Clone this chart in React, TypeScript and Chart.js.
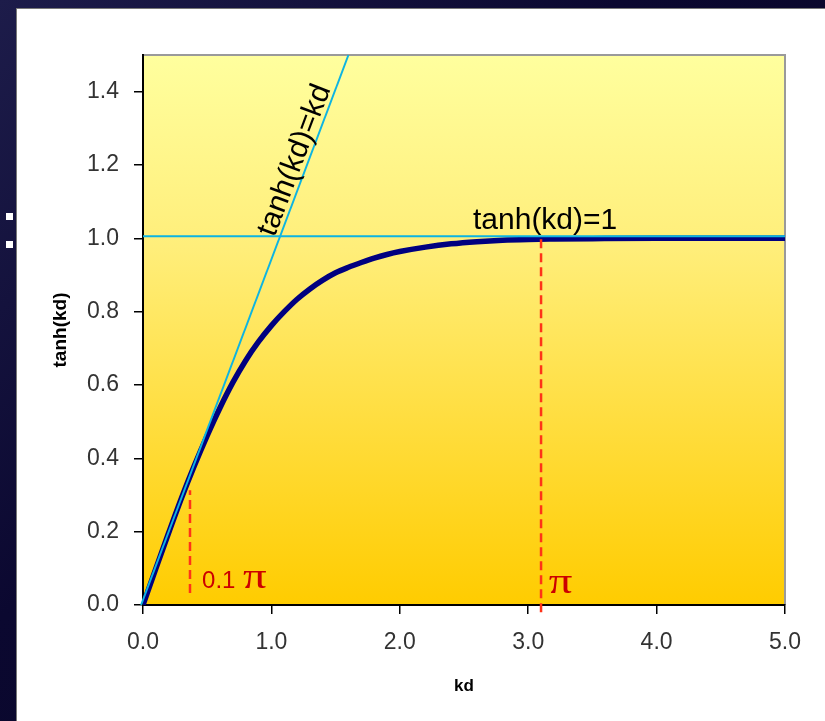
import React, { useEffect, useRef } from "react";
import { Chart, registerables } from "chart.js";

Chart.register(...registerables);

// ---- data ----
const kdValues = [0, 0.1, 0.2, 0.3, 0.4, 0.5, 0.6, 0.7, 0.8, 0.9, 1.0, 1.1, 1.2, 1.3, 1.4, 1.5, 1.6, 1.7, 1.8, 1.9, 2.0, 2.2, 2.4, 2.6, 2.8, 3.0, 3.2, 3.5, 4.0, 4.5, 5.0];
const tanhValues = [0, 0.099, 0.197, 0.292, 0.38, 0.462, 0.538, 0.607, 0.667, 0.718, 0.762, 0.8, 0.834, 0.862, 0.886, 0.906, 0.921, 0.934, 0.946, 0.956, 0.964, 0.976, 0.985, 0.991, 0.995, 0.997, 0.998, 0.999, 1.0, 1.0, 1.0];

const identityKd = [-0.015, 1.6];
const identityTanh = [0, 1.5];

const asymptoteKd = [0, 5];
const asymptoteTanh = [1.006, 1.006];

const marker1Kd = [0.366, 0.366];
const marker1Tanh = [0.033, 0.313];
const marker2Kd = [3.1, 3.1];
const marker2Tanh = [-0.02, 0.999];

const xTickValues = [0, 1, 2, 3, 4, 5];
const xTickLabels = ["0.0", "1.0", "2.0", "3.0", "4.0", "5.0"];
const yTickValues = [0, 0.2, 0.4, 0.6, 0.8, 1.0, 1.2, 1.4];
const yTickLabels = ["0.0", "0.2", "0.4", "0.6", "0.8", "1.0", "1.2", "1.4"];

const xTitle = "kd";
const yTitle = "tanh(kd)";
const labelIdentity = "tanh(kd)=kd";
const labelAsymptote = "tanh(kd)=1";
const labelMarker1 = "0.1";
const labelPi = "π";

const SANS = "'Liberation Sans', Arial, Helvetica, sans-serif";
const SERIF = "'Liberation Serif', 'Times New Roman', serif";

const pts = (xs: number[], ys: number[]) => xs.map((x, i) => ({ x, y: ys[i] }));

const plotPlugin = {
  id: "plotDecor",
  beforeDraw(chart: any) {
    const { ctx, chartArea: a } = chart;
    ctx.save();
    const g = ctx.createLinearGradient(0, a.top, 0, a.bottom);
    g.addColorStop(0, "#FFFF9E");
    g.addColorStop(0.35, "#FFEE7A");
    g.addColorStop(1, "#FFCC00");
    ctx.fillStyle = g;
    ctx.fillRect(a.left, a.top, a.right - a.left, a.bottom - a.top);
    ctx.strokeStyle = "#9a9a9a";
    ctx.lineWidth = 2;
    ctx.beginPath();
    ctx.moveTo(a.left, a.top);
    ctx.lineTo(a.right, a.top);
    ctx.lineTo(a.right, a.bottom);
    ctx.stroke();
    ctx.restore();
  },
  afterDatasetsDraw(chart: any) {
    const { ctx } = chart;
    const xs = chart.scales.x;
    const ys = chart.scales.y;
    const px = (v: number) => xs.getPixelForValue(v);
    const py = (v: number) => ys.getPixelForValue(v);
    ctx.save();
    // rotated label along identity line
    const x0 = px(identityKd[0]);
    const y0 = py(identityTanh[0]);
    const x1 = px(identityKd[1]);
    const y1 = py(identityTanh[1]);
    const ang = Math.atan2(y1 - y0, x1 - x0);
    ctx.translate(px(1.28), py(1.2));
    ctx.rotate(ang);
    ctx.font = `30px ${SANS}`;
    ctx.fillStyle = "#000";
    ctx.textAlign = "center";
    ctx.textBaseline = "alphabetic";
    ctx.fillText(labelIdentity, 0, -5);
    ctx.setTransform(1, 0, 0, 1, 0, 0);
    // horizontal label
    ctx.textAlign = "left";
    ctx.font = `30px ${SANS}`;
    ctx.fillText(labelAsymptote, px(2.57), py(1.025));
    // red labels
    ctx.fillStyle = "#CC0000";
    ctx.font = `24px ${SANS}`;
    const lx = px(0.46);
    const ly = py(0.046);
    ctx.fillText(labelMarker1, lx, ly);
    const w = ctx.measureText(labelMarker1 + " ").width;
    const drawPi = (x: number, y: number) => {
      ctx.save();
      ctx.translate(x, y);
      ctx.scale(1.3, 1);
      ctx.font = `36px ${SERIF}`;
      ctx.fillText(labelPi, 0, 0);
      ctx.restore();
    };
    drawPi(lx + w + 1, ly);
    drawPi(px(3.16), py(0.033));
    ctx.restore();
  },
};

export default function App() {
  const ref = useRef<HTMLCanvasElement | null>(null);
  useEffect(() => {
    if (!ref.current) return;
    const chart = new Chart(ref.current, {
      type: "line",
      data: {
        datasets: [
          {
            data: pts(marker1Kd, marker1Tanh),
            borderColor: "#FF3318",
            borderWidth: 2.5,
            borderDash: [9, 5],
            pointRadius: 0,
            clip: false as any,
          },
          {
            data: pts(marker2Kd, marker2Tanh),
            borderColor: "#FF3318",
            borderWidth: 2.5,
            borderDash: [9, 5],
            pointRadius: 0,
            clip: false as any,
          },
          {
            data: pts(identityKd, identityTanh),
            borderColor: "#0DB4E2",
            borderWidth: 2,
            pointRadius: 0,
            clip: false as any,
          },
          {
            data: pts(asymptoteKd, asymptoteTanh),
            borderColor: "#0DB4E2",
            borderWidth: 2,
            pointRadius: 0,
          },
          {
            data: pts(kdValues, tanhValues),
            borderColor: "#000080",
            borderWidth: 5.5,
            pointRadius: 0,
            cubicInterpolationMode: "monotone",
          },
        ],
      },
      options: {
        responsive: false,
        animation: false,
        layout: { padding: { top: 55, right: 40, left: 0, bottom: 0 } },
        plugins: { legend: { display: false }, tooltip: { enabled: false } },
        scales: {
          x: {
            type: "linear",
            min: 0,
            max: 5,
            afterFit: (s: any) => {
              s.height = 116;
            },
            afterBuildTicks: (s: any) => {
              s.ticks = xTickValues.map((v) => ({ value: v }));
            },
            ticks: {
              padding: 15,
              color: "#333",
              font: { size: 23, family: SANS },
              callback: (_v: any, i: number) => xTickLabels[i],
            },
            grid: { drawOnChartArea: false, drawTicks: true, tickLength: 9, color: "#000", lineWidth: 1.5 },
            border: { display: true, color: "#000", width: 2 },
            title: {
              display: true,
              text: xTitle,
              color: "#000",
              font: { size: 17, weight: "bold", family: SANS },
              padding: { top: 0, bottom: 24 },
            },
          },
          y: {
            type: "linear",
            min: 0,
            max: 1.5,
            afterFit: (s: any) => {
              s.width = 143;
            },
            afterBuildTicks: (s: any) => {
              s.ticks = yTickValues.map((v) => ({ value: v }));
            },
            ticks: {
              padding: 15,
              color: "#333",
              font: { size: 23, family: SANS },
              callback: (_v: any, i: number) => yTickLabels[i],
            },
            grid: { drawOnChartArea: false, drawTicks: true, tickLength: 9, color: "#000", lineWidth: 1.5 },
            border: { display: true, color: "#000", width: 2 },
            title: {
              display: true,
              text: yTitle,
              color: "#000",
              font: { size: 19, weight: "bold", family: SANS },
              padding: { top: 49, bottom: 0 },
            },
          },
        },
      } as any,
      plugins: [plotPlugin],
    });
    return () => chart.destroy();
  }, []);

  return (
    <div
      style={{
        position: "fixed",
        left: 0,
        top: 0,
        width: 825,
        height: 721,
        background: "linear-gradient(135deg, #1d1c4a 0%, #0b0830 40%, #060420 100%)",
        overflow: "hidden",
      }}
    >
      <div style={{ position: "absolute", left: 6, top: 213, width: 7, height: 7, background: "#fff" }} />
      <div style={{ position: "absolute", left: 6, top: 241, width: 7, height: 7, background: "#fff" }} />
      <div
        style={{
          position: "absolute",
          left: 16,
          top: 8,
          right: 0,
          bottom: 0,
          background: "#fff",
          borderLeft: "1px solid #777",
          borderTop: "1px solid #777",
        }}
      />
      <canvas ref={ref} width={825} height={721} style={{ position: "absolute", left: 0, top: 0 }} />
    </div>
  );
}
